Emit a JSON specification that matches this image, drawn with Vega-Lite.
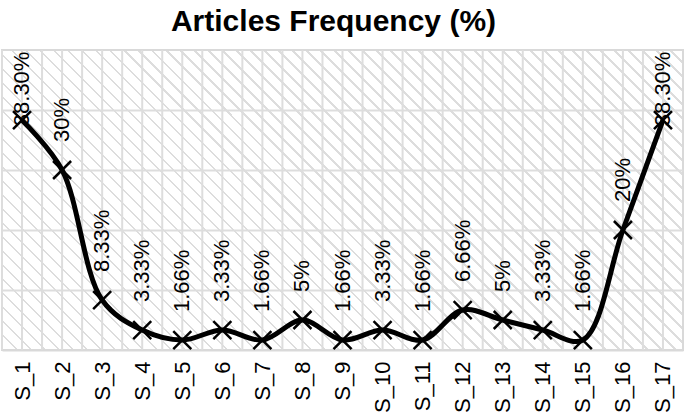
{
  "$schema": "https://vega.github.io/schema/vega-lite/v6.json",
  "width": 681,
  "height": 300,
  "autosize": {"type": "none"},
  "padding": {"left": 2, "top": 50, "right": 2, "bottom": 63},
  "background": "#ffffff",
  "title": {"text": "Articles Frequency (%)", "fontSize": 30, "font": "Liberation Sans", "fontWeight": "bold", "color": "#000000", "anchor": "middle", "dx": -9, "offset": 12},
  "view": {
    "stroke": "#d9d9d9",
    "strokeWidth": 2,
    "fill": {
      "gradient": "linear", "x1": 0, "y1": 1, "x2": 1.2064, "y2": 0.4686,
      "stops": [
        {"offset":0,"color":"#ddd"},{"offset":0.0026,"color":"#ddd"},{"offset":0.0026,"color":"#fff"},{"offset":0.0143,"color":"#fff"},
        {"offset":0.0143,"color":"#ddd"},{"offset":0.0169,"color":"#ddd"},{"offset":0.0169,"color":"#fff"},{"offset":0.0286,"color":"#fff"},
        {"offset":0.0286,"color":"#ddd"},{"offset":0.0312,"color":"#ddd"},{"offset":0.0312,"color":"#fff"},{"offset":0.0429,"color":"#fff"},
        {"offset":0.0429,"color":"#ddd"},{"offset":0.0455,"color":"#ddd"},{"offset":0.0455,"color":"#fff"},{"offset":0.0571,"color":"#fff"},
        {"offset":0.0571,"color":"#ddd"},{"offset":0.0597,"color":"#ddd"},{"offset":0.0597,"color":"#fff"},{"offset":0.0714,"color":"#fff"},
        {"offset":0.0714,"color":"#ddd"},{"offset":0.074,"color":"#ddd"},{"offset":0.074,"color":"#fff"},{"offset":0.0857,"color":"#fff"},
        {"offset":0.0857,"color":"#ddd"},{"offset":0.0883,"color":"#ddd"},{"offset":0.0883,"color":"#fff"},{"offset":0.1,"color":"#fff"},
        {"offset":0.1,"color":"#ddd"},{"offset":0.1026,"color":"#ddd"},{"offset":0.1026,"color":"#fff"},{"offset":0.1143,"color":"#fff"},
        {"offset":0.1143,"color":"#ddd"},{"offset":0.1169,"color":"#ddd"},{"offset":0.1169,"color":"#fff"},{"offset":0.1286,"color":"#fff"},
        {"offset":0.1286,"color":"#ddd"},{"offset":0.1312,"color":"#ddd"},{"offset":0.1312,"color":"#fff"},{"offset":0.1429,"color":"#fff"},
        {"offset":0.1429,"color":"#ddd"},{"offset":0.1455,"color":"#ddd"},{"offset":0.1455,"color":"#fff"},{"offset":0.1571,"color":"#fff"},
        {"offset":0.1571,"color":"#ddd"},{"offset":0.1597,"color":"#ddd"},{"offset":0.1597,"color":"#fff"},{"offset":0.1714,"color":"#fff"},
        {"offset":0.1714,"color":"#ddd"},{"offset":0.174,"color":"#ddd"},{"offset":0.174,"color":"#fff"},{"offset":0.1857,"color":"#fff"},
        {"offset":0.1857,"color":"#ddd"},{"offset":0.1883,"color":"#ddd"},{"offset":0.1883,"color":"#fff"},{"offset":0.2,"color":"#fff"},
        {"offset":0.2,"color":"#ddd"},{"offset":0.2026,"color":"#ddd"},{"offset":0.2026,"color":"#fff"},{"offset":0.2143,"color":"#fff"},
        {"offset":0.2143,"color":"#ddd"},{"offset":0.2169,"color":"#ddd"},{"offset":0.2169,"color":"#fff"},{"offset":0.2286,"color":"#fff"},
        {"offset":0.2286,"color":"#ddd"},{"offset":0.2312,"color":"#ddd"},{"offset":0.2312,"color":"#fff"},{"offset":0.2429,"color":"#fff"},
        {"offset":0.2429,"color":"#ddd"},{"offset":0.2455,"color":"#ddd"},{"offset":0.2455,"color":"#fff"},{"offset":0.2571,"color":"#fff"},
        {"offset":0.2571,"color":"#ddd"},{"offset":0.2597,"color":"#ddd"},{"offset":0.2597,"color":"#fff"},{"offset":0.2714,"color":"#fff"},
        {"offset":0.2714,"color":"#ddd"},{"offset":0.274,"color":"#ddd"},{"offset":0.274,"color":"#fff"},{"offset":0.2857,"color":"#fff"},
        {"offset":0.2857,"color":"#ddd"},{"offset":0.2883,"color":"#ddd"},{"offset":0.2883,"color":"#fff"},{"offset":0.3,"color":"#fff"},
        {"offset":0.3,"color":"#ddd"},{"offset":0.3026,"color":"#ddd"},{"offset":0.3026,"color":"#fff"},{"offset":0.3143,"color":"#fff"},
        {"offset":0.3143,"color":"#ddd"},{"offset":0.3169,"color":"#ddd"},{"offset":0.3169,"color":"#fff"},{"offset":0.3286,"color":"#fff"},
        {"offset":0.3286,"color":"#ddd"},{"offset":0.3312,"color":"#ddd"},{"offset":0.3312,"color":"#fff"},{"offset":0.3429,"color":"#fff"},
        {"offset":0.3429,"color":"#ddd"},{"offset":0.3455,"color":"#ddd"},{"offset":0.3455,"color":"#fff"},{"offset":0.3571,"color":"#fff"},
        {"offset":0.3571,"color":"#ddd"},{"offset":0.3597,"color":"#ddd"},{"offset":0.3597,"color":"#fff"},{"offset":0.3714,"color":"#fff"},
        {"offset":0.3714,"color":"#ddd"},{"offset":0.374,"color":"#ddd"},{"offset":0.374,"color":"#fff"},{"offset":0.3857,"color":"#fff"},
        {"offset":0.3857,"color":"#ddd"},{"offset":0.3883,"color":"#ddd"},{"offset":0.3883,"color":"#fff"},{"offset":0.4,"color":"#fff"},
        {"offset":0.4,"color":"#ddd"},{"offset":0.4026,"color":"#ddd"},{"offset":0.4026,"color":"#fff"},{"offset":0.4143,"color":"#fff"},
        {"offset":0.4143,"color":"#ddd"},{"offset":0.4169,"color":"#ddd"},{"offset":0.4169,"color":"#fff"},{"offset":0.4286,"color":"#fff"},
        {"offset":0.4286,"color":"#ddd"},{"offset":0.4312,"color":"#ddd"},{"offset":0.4312,"color":"#fff"},{"offset":0.4429,"color":"#fff"},
        {"offset":0.4429,"color":"#ddd"},{"offset":0.4455,"color":"#ddd"},{"offset":0.4455,"color":"#fff"},{"offset":0.4571,"color":"#fff"},
        {"offset":0.4571,"color":"#ddd"},{"offset":0.4597,"color":"#ddd"},{"offset":0.4597,"color":"#fff"},{"offset":0.4714,"color":"#fff"},
        {"offset":0.4714,"color":"#ddd"},{"offset":0.474,"color":"#ddd"},{"offset":0.474,"color":"#fff"},{"offset":0.4857,"color":"#fff"},
        {"offset":0.4857,"color":"#ddd"},{"offset":0.4883,"color":"#ddd"},{"offset":0.4883,"color":"#fff"},{"offset":0.5,"color":"#fff"},
        {"offset":0.5,"color":"#ddd"},{"offset":0.5026,"color":"#ddd"},{"offset":0.5026,"color":"#fff"},{"offset":0.5143,"color":"#fff"},
        {"offset":0.5143,"color":"#ddd"},{"offset":0.5169,"color":"#ddd"},{"offset":0.5169,"color":"#fff"},{"offset":0.5286,"color":"#fff"},
        {"offset":0.5286,"color":"#ddd"},{"offset":0.5312,"color":"#ddd"},{"offset":0.5312,"color":"#fff"},{"offset":0.5429,"color":"#fff"},
        {"offset":0.5429,"color":"#ddd"},{"offset":0.5455,"color":"#ddd"},{"offset":0.5455,"color":"#fff"},{"offset":0.5571,"color":"#fff"},
        {"offset":0.5571,"color":"#ddd"},{"offset":0.5597,"color":"#ddd"},{"offset":0.5597,"color":"#fff"},{"offset":0.5714,"color":"#fff"},
        {"offset":0.5714,"color":"#ddd"},{"offset":0.574,"color":"#ddd"},{"offset":0.574,"color":"#fff"},{"offset":0.5857,"color":"#fff"},
        {"offset":0.5857,"color":"#ddd"},{"offset":0.5883,"color":"#ddd"},{"offset":0.5883,"color":"#fff"},{"offset":0.6,"color":"#fff"},
        {"offset":0.6,"color":"#ddd"},{"offset":0.6026,"color":"#ddd"},{"offset":0.6026,"color":"#fff"},{"offset":0.6143,"color":"#fff"},
        {"offset":0.6143,"color":"#ddd"},{"offset":0.6169,"color":"#ddd"},{"offset":0.6169,"color":"#fff"},{"offset":0.6286,"color":"#fff"},
        {"offset":0.6286,"color":"#ddd"},{"offset":0.6312,"color":"#ddd"},{"offset":0.6312,"color":"#fff"},{"offset":0.6429,"color":"#fff"},
        {"offset":0.6429,"color":"#ddd"},{"offset":0.6455,"color":"#ddd"},{"offset":0.6455,"color":"#fff"},{"offset":0.6571,"color":"#fff"},
        {"offset":0.6571,"color":"#ddd"},{"offset":0.6597,"color":"#ddd"},{"offset":0.6597,"color":"#fff"},{"offset":0.6714,"color":"#fff"},
        {"offset":0.6714,"color":"#ddd"},{"offset":0.674,"color":"#ddd"},{"offset":0.674,"color":"#fff"},{"offset":0.6857,"color":"#fff"},
        {"offset":0.6857,"color":"#ddd"},{"offset":0.6883,"color":"#ddd"},{"offset":0.6883,"color":"#fff"},{"offset":0.7,"color":"#fff"},
        {"offset":0.7,"color":"#ddd"},{"offset":0.7026,"color":"#ddd"},{"offset":0.7026,"color":"#fff"},{"offset":0.7143,"color":"#fff"},
        {"offset":0.7143,"color":"#ddd"},{"offset":0.7169,"color":"#ddd"},{"offset":0.7169,"color":"#fff"},{"offset":0.7286,"color":"#fff"},
        {"offset":0.7286,"color":"#ddd"},{"offset":0.7312,"color":"#ddd"},{"offset":0.7312,"color":"#fff"},{"offset":0.7429,"color":"#fff"},
        {"offset":0.7429,"color":"#ddd"},{"offset":0.7455,"color":"#ddd"},{"offset":0.7455,"color":"#fff"},{"offset":0.7571,"color":"#fff"},
        {"offset":0.7571,"color":"#ddd"},{"offset":0.7597,"color":"#ddd"},{"offset":0.7597,"color":"#fff"},{"offset":0.7714,"color":"#fff"},
        {"offset":0.7714,"color":"#ddd"},{"offset":0.774,"color":"#ddd"},{"offset":0.774,"color":"#fff"},{"offset":0.7857,"color":"#fff"},
        {"offset":0.7857,"color":"#ddd"},{"offset":0.7883,"color":"#ddd"},{"offset":0.7883,"color":"#fff"},{"offset":0.8,"color":"#fff"},
        {"offset":0.8,"color":"#ddd"},{"offset":0.8026,"color":"#ddd"},{"offset":0.8026,"color":"#fff"},{"offset":0.8143,"color":"#fff"},
        {"offset":0.8143,"color":"#ddd"},{"offset":0.8169,"color":"#ddd"},{"offset":0.8169,"color":"#fff"},{"offset":0.8286,"color":"#fff"},
        {"offset":0.8286,"color":"#ddd"},{"offset":0.8312,"color":"#ddd"},{"offset":0.8312,"color":"#fff"},{"offset":0.8429,"color":"#fff"},
        {"offset":0.8429,"color":"#ddd"},{"offset":0.8455,"color":"#ddd"},{"offset":0.8455,"color":"#fff"},{"offset":0.8571,"color":"#fff"},
        {"offset":0.8571,"color":"#ddd"},{"offset":0.8597,"color":"#ddd"},{"offset":0.8597,"color":"#fff"},{"offset":0.8714,"color":"#fff"},
        {"offset":0.8714,"color":"#ddd"},{"offset":0.874,"color":"#ddd"},{"offset":0.874,"color":"#fff"},{"offset":0.8857,"color":"#fff"},
        {"offset":0.8857,"color":"#ddd"},{"offset":0.8883,"color":"#ddd"},{"offset":0.8883,"color":"#fff"},{"offset":0.9,"color":"#fff"},
        {"offset":0.9,"color":"#ddd"},{"offset":0.9026,"color":"#ddd"},{"offset":0.9026,"color":"#fff"},{"offset":0.9143,"color":"#fff"},
        {"offset":0.9143,"color":"#ddd"},{"offset":0.9169,"color":"#ddd"},{"offset":0.9169,"color":"#fff"},{"offset":0.9286,"color":"#fff"},
        {"offset":0.9286,"color":"#ddd"},{"offset":0.9312,"color":"#ddd"},{"offset":0.9312,"color":"#fff"},{"offset":0.9429,"color":"#fff"},
        {"offset":0.9429,"color":"#ddd"},{"offset":0.9455,"color":"#ddd"},{"offset":0.9455,"color":"#fff"},{"offset":0.9571,"color":"#fff"},
        {"offset":0.9571,"color":"#ddd"},{"offset":0.9597,"color":"#ddd"},{"offset":0.9597,"color":"#fff"},{"offset":0.9714,"color":"#fff"},
        {"offset":0.9714,"color":"#ddd"},{"offset":0.974,"color":"#ddd"},{"offset":0.974,"color":"#fff"},{"offset":0.9857,"color":"#fff"},
        {"offset":0.9857,"color":"#ddd"},{"offset":0.9883,"color":"#ddd"},{"offset":0.9883,"color":"#fff"},{"offset":1,"color":"#fff"}
      ]
    }
  },
  "data": {
    "values": [
      {"study": "S_1", "value": 38.3, "label": "38.30%"},
      {"study": "S_2", "value": 30, "label": "30%"},
      {"study": "S_3", "value": 8.33, "label": "8.33%"},
      {"study": "S_4", "value": 3.33, "label": "3.33%"},
      {"study": "S_5", "value": 1.66, "label": "1.66%"},
      {"study": "S_6", "value": 3.33, "label": "3.33%"},
      {"study": "S_7", "value": 1.66, "label": "1.66%"},
      {"study": "S_8", "value": 5, "label": "5%"},
      {"study": "S_9", "value": 1.66, "label": "1.66%"},
      {"study": "S_10", "value": 3.33, "label": "3.33%"},
      {"study": "S_11", "value": 1.66, "label": "1.66%"},
      {"study": "S_12", "value": 6.66, "label": "6.66%"},
      {"study": "S_13", "value": 5, "label": "5%"},
      {"study": "S_14", "value": 3.33, "label": "3.33%"},
      {"study": "S_15", "value": 1.66, "label": "1.66%"},
      {"study": "S_16", "value": 20, "label": "20%"},
      {"study": "S_17", "value": 38.3, "label": "38.30%"}
    ]
  },
  "encoding": {
    "x": {
      "field": "study", "type": "nominal", "sort": null,
      "scale": {"type": "point", "padding": 0.5},
      "axis": {
        "title": null, "labelAngle": -90, "labelAlign": "right", "labelBaseline": "middle",
        "labelFontSize": 22, "labelFont": "Liberation Sans", "labelColor": "#000000",
        "labelPadding": 11, "ticks": false, "grid": false, "labelOverlap": false,
        "domainColor": "#d9d9d9", "domainWidth": 2
      }
    }
  },
  "layer": [
    {
      "mark": {"type": "rule", "color": "#dddddd", "strokeWidth": 2},
      "encoding": {
        "y": {"datum": 0, "type": "quantitative"},
        "y2": {"datum": 50}
      }
    },
    {
      "mark": {"type": "rule", "color": "#dddddd", "strokeWidth": 2, "xOffset": -20.03},
      "encoding": {
        "y": {"datum": 0, "type": "quantitative"},
        "y2": {"datum": 50}
      }
    },
    {
      "mark": {"type": "line", "color": "#000000", "strokeWidth": 5, "interpolate": "catmull-rom"},
      "encoding": {
        "y": {
          "field": "value", "type": "quantitative",
          "scale": {"domain": [0, 50], "nice": false, "zero": true},
          "axis": {"values": [10, 20, 30, 40], "grid": true, "gridColor": "#dddddd", "gridWidth": 2, "labels": false, "ticks": false, "domain": false, "title": null}
        }
      }
    },
    {
      "mark": {"type": "point", "shape": "M-1,-1L1,1M1,-1L-1,1", "size": 324, "filled": false, "color": "#000000", "strokeWidth": 2.5, "opacity": 1},
      "encoding": {
        "y": {"field": "value", "type": "quantitative"}
      }
    },
    {
      "transform": [{"filter": "datum.value < 35"}],
      "mark": {"type": "text", "angle": -90, "align": "left", "baseline": "middle", "dx": 28, "fontSize": 22, "font": "Liberation Sans", "color": "#000000"},
      "encoding": {
        "y": {"field": "value", "type": "quantitative"},
        "text": {"field": "label"}
      }
    },
    {
      "transform": [{"filter": "datum.value >= 35"}],
      "mark": {"type": "text", "angle": -90, "align": "left", "baseline": "middle", "dx": -6, "fontSize": 22, "font": "Liberation Sans", "color": "#000000"},
      "encoding": {
        "y": {"field": "value", "type": "quantitative"},
        "text": {"field": "label"}
      }
    }
  ]
}
